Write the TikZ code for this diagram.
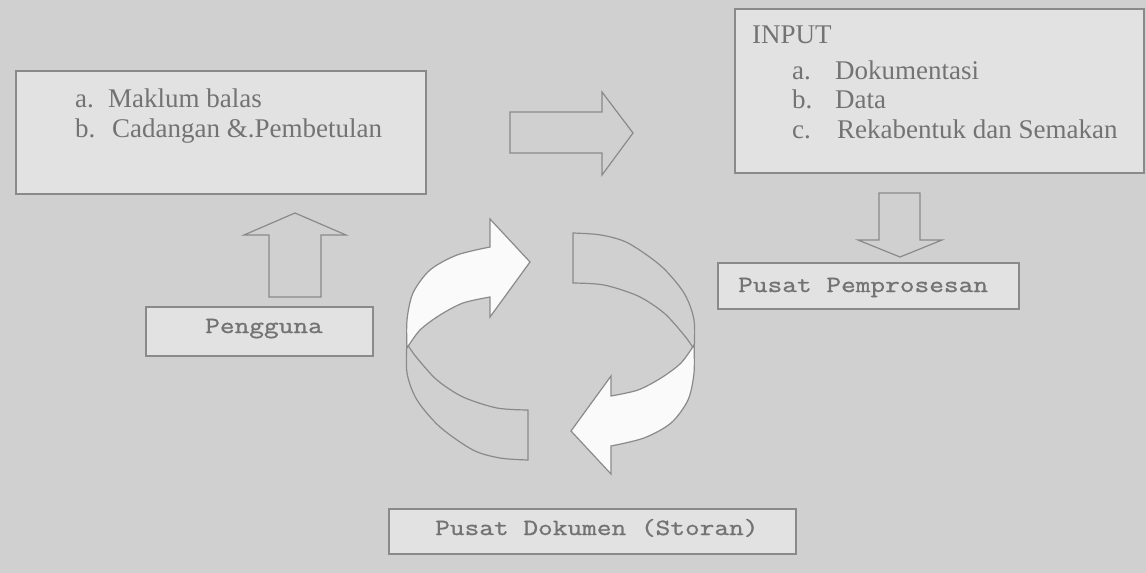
\documentclass[tikz,border=0pt]{standalone}
\usepackage{fontspec}
\newfontfamily\txtfont{Liberation Serif}
\newfontfamily\cwfont[FakeStretch=1.23,FakeBold=1]{Latin Modern Mono}
\definecolor{bgc}{RGB}{208,208,208}
\definecolor{boxc}{RGB}{226,226,226}
\definecolor{linec}{RGB}{138,138,138}
\definecolor{txtc}{RGB}{115,115,115}
\definecolor{frontc}{RGB}{250,250,250}
\tikzset{
  box/.style={draw=linec, fill=boxc, line width=1.6pt, inner sep=0pt, anchor=north west},
  sertext/.style={font=\txtfont\fontsize{27}{30}\selectfont, text=txtc, inner sep=0pt, anchor=base west},
  montext/.style={font=\cwfont\fontsize{23.2}{28}\selectfont, text=txtc, inner sep=0pt, anchor=base west},
  blockarrow/.style={draw=linec, line width=1.2pt, line join=miter},
  backpart/.style={draw=linec, fill=bgc, line width=1.2pt},
  frontpart/.style={draw=linec, fill=frontc, line width=1.2pt, line join=miter}
}
\begin{document}
\begin{tikzpicture}[x=1pt,y=-1pt]
\useasboundingbox (0,0) rectangle (1146,573);
\fill[bgc] (0,0) rectangle (1146,573);

% boxes
\node[box, minimum width=410pt, minimum height=123pt] (fb) at (15,70) {};
\node[box, minimum width=409pt, minimum height=164pt] (inp) at (734,8) {};
\node[box, minimum width=301pt, minimum height=46pt] (pp) at (717,262) {};
\node[box, minimum width=227pt, minimum height=49pt] (pg) at (145,306) {};
\node[box, minimum width=407pt, minimum height=45pt] (pd) at (388,508) {};

% texts
\node[sertext] (fba) at (75,107) {a.};
\node[sertext] (fbat) at (108,107) {Maklum balas};
\node[sertext] (fbb) at (75,137) {b.};
\node[sertext] (fbbt) at (112,137) {Cadangan \&.Pembetulan};

\node[sertext] (inpt) at (752,43) {INPUT};
\node[sertext] (ina) at (792,79) {a.};
\node[sertext] (inat) at (835,79) {Dokumentasi};
\node[sertext] (inb) at (792,108) {b.};
\node[sertext] (inbt) at (835,108) {Data};
\node[sertext] (inc) at (792,138) {c.};
\node[sertext] (inct) at (837,138) {Rekabentuk dan Semakan};

\node[montext] (ppt) at (738,292) {Pusat Pemprosesan};
\node[montext] (pgt) at (205,333) {Pengguna};
\node[montext] (pdt) at (435,535) {Pusat Dokumen (Storan)};

% block arrows
\draw[blockarrow] (510,112) -- (602,112) -- (602,92) -- (633,133) -- (602,175) -- (602,153) -- (510,153) -- cycle;
\draw[blockarrow] (269,297) -- (269,235) -- (244,235) -- (295,213) -- (346,235) -- (321,235) -- (321,297) -- cycle;
\draw[blockarrow] (879,193) -- (920,193) -- (920,240) -- (942,240) -- (900,257) -- (858,240) -- (879,240) -- cycle;

% circular arrows
\foreach \rot in {0,180}{
\begin{scope}[rotate around={\rot:(550.5,346.5)}]
\path[backpart] plot[smooth] coordinates {(407,340) (407,373) (417,400) (440,427) (473,450) (500,458) (528,460)}
  -- (528,410)
  -- plot[smooth] coordinates {(528,410) (497,408) (463,397) (437,380) (417,358) (409,347)} -- cycle;
\path[frontpart] plot[smooth] coordinates {(407,348) (407,320) (413,293) (430,270) (457,255) (490,247)}
  -- (490,219) -- (530,262) -- (490,317) -- (490,297)
  -- plot[smooth] coordinates {(490,297) (463,303) (440,315) (420,330) (407,348)} -- cycle;
\end{scope}
}
\end{tikzpicture}
\end{document}
